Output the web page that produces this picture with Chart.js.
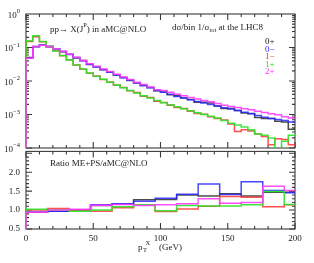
<!DOCTYPE html>
<html><head><meta charset="utf-8">
<script src="https://cdn.jsdelivr.net/npm/chart.js@4.4.1/dist/chart.umd.min.js"></script>
<style>
html,body{margin:0;padding:0;background:#fff;}
#wrap{position:relative;width:314px;height:263px;overflow:hidden;background:#fff}
canvas{position:absolute;left:0}
</style></head><body>
<div id="wrap">
<canvas id="cTop" width="314" height="160" style="top:0;width:314px;height:160px"></canvas>
<canvas id="cRatio" width="314" height="123" style="top:140px;width:314px;height:123px"></canvas>
</div>
<script>
// ---------- data ----------
const seriesNames = ['0+', '0\u2212', '1\u2212', '1+', '2+'];
const topBinEdges = [0,5,10,15,20,25,30,35,40,45,50,55,60,65,70,75,80,85,90,95,100,
  105,110,115,120,125,130,135,140,145,150,155,160,165,170,175,180,185,190,195,200];
const ratioBinEdges = [0,16,32,48,64,80,96,112,128,144,160,176,192,200];

const spec0p = [0.050,0.105,0.118,0.106,0.092,0.075,0.063,0.049,0.041,0.031,0.0265,0.0215,0.0185,0.0150,0.0128,0.0104,0.0088,0.0073,0.0064,0.0051,
  0.0047,0.0039,0.00363,0.00309,0.00282,0.00234,0.00234,0.00219,0.00178,0.00151,0.00151,0.00132,0.00110,0.00107,0.00081,0.00076,0.00076,0.00063,0.00060,0.00036];
const spec0m = [0.049,0.107,0.117,0.107,0.091,0.076,0.062,0.050,0.040,0.0316,0.0263,0.0219,0.0182,0.0151,0.0126,0.0105,0.0087,0.0074,0.0063,0.0052,
  0.0046,0.0040,0.00347,0.00309,0.00275,0.00245,0.00219,0.00200,0.00178,0.00158,0.00145,0.00132,0.00117,0.00105,0.00093,0.00083,0.00076,0.00071,0.00066,0.00060];
const spec1m = [0.150,0.210,0.148,0.108,0.080,0.057,0.043,0.030,0.0225,0.0170,0.0141,0.0110,0.0093,0.0075,0.0064,0.0051,0.0045,0.0035,0.0032,0.0025,
  0.0023,0.0019,0.00162,0.00151,0.00126,0.00107,0.00102,0.00085,0.00076,0.00069,0.00052,0.00031,0.00035,0.00032,0.00026,0.00022,0.000126,0.00019,0.000178,0.000126];
const spec1p = [0.158,0.224,0.151,0.110,0.079,0.058,0.042,0.030,0.023,0.0174,0.0138,0.0112,0.0091,0.0076,0.0063,0.0052,0.0044,0.0036,0.0031,0.0026,
  0.00224,0.00195,0.00170,0.00148,0.00129,0.00112,0.00100,0.00089,0.00079,0.00066,0.00055,0.00049,0.00042,0.00035,0.00026,0.00024,0.00020,0.00005,0.00016,0.00024];
const spec2p = [0.048,0.108,0.116,0.108,0.092,0.077,0.063,0.051,0.041,0.0325,0.0275,0.0229,0.0191,0.0158,0.0132,0.0110,0.0091,0.0078,0.0066,0.0055,
  0.0052,0.0046,0.0040,0.0036,0.0032,0.0029,0.0026,0.0024,0.00214,0.0019,0.00174,0.00162,0.00148,0.00138,0.00126,0.00115,0.00105,0.00098,0.00085,0.00079];

const ratio0p = [0.94,0.97,1.01,1.12,1.16,1.27,1.28,1.40,1.37,1.43,1.37,1.47,1.47];
const ratio0m = [0.94,0.97,1.01,1.14,1.17,1.23,1.31,1.42,1.69,1.41,1.75,1.52,1.46];
const ratio1m = [1.00,1.04,1.00,0.97,1.06,1.14,0.96,1.03,1.10,1.36,1.34,1.09,1.14];
const ratio1p = [1.02,1.00,0.97,1.00,1.09,1.14,0.98,1.12,1.11,1.11,1.14,1.49,1.15];
const ratio2p = [0.94,1.00,1.02,1.13,1.15,1.12,1.14,1.17,1.30,1.18,1.20,1.63,1.52];

const xTickValues = [0,50,100,150,200];
const xTickLabels = ['0','50','100','150','200'];
const topYTickValues = [1,0.1,0.01,0.001,0.0001];
const topYTickExp = ['0','\u22121','\u22122','\u22123','\u22124'];
const ratioYTickValues = [0.5,1.0,1.5,2.0];
const ratioYTickLabels = ['0.5','1.0','1.5','2.0'];

// ---------- styles ----------
const FONT = "'Liberation Serif','DejaVu Serif',serif";
const colors = ['rgba(30,30,30,0.8)','rgba(40,40,255,0.85)','rgba(255,50,50,0.85)','rgba(40,230,40,0.9)','rgba(255,60,255,0.9)'];
const textColors = ['#111','#2a2aff','#ff2a2a','#22dd22','#ff33ff'];
const drawOrder = [4,3,2,1,0];

function histPoints(edges, vals, floor){
  const pts = [{x: edges[0], y: floor}];
  vals.forEach((v,i)=>pts.push({x: edges[i], y: v}));
  pts.push({x: edges[vals.length], y: vals[vals.length-1]});
  return pts;
}
function makeSets(edges, arrs, floor){
  return arrs.map((a,i)=>({
    label: seriesNames[i], data: histPoints(edges, a, floor),
    borderColor: colors[i], borderWidth: 1.5, stepped: true, pointRadius: 0,
    fill: false, order: drawOrder[i], clip: {left:2,right:1,top:0,bottom:0}
  }));
}

function rich(ctx, parts, x, y, size, color, measureOnly){
  let cx = x;
  for (const p of parts){
    const fs = p.s ? size*0.72 : size;
    ctx.font = fs + 'px ' + FONT;
    const dy = p.s===1 ? -size*0.42 : (p.s===-1 ? size*0.32 : 0);
    if (!measureOnly){ ctx.fillStyle = color; ctx.fillText(p.t, cx, y+dy); }
    cx += ctx.measureText(p.t).width;
  }
  return cx - x;
}

function tickLine(ctx, x1,y1,x2,y2){ ctx.moveTo(x1,y1); ctx.lineTo(x2,y2); }

function frame(chart, isTop){
  const ctx = chart.ctx, a = chart.chartArea, xs = chart.scales.x, ys = chart.scales.y;
  ctx.save();
  ctx.strokeStyle = '#3a3a3a'; ctx.lineWidth = 1.1;
  ctx.strokeRect(a.left, a.top, a.right-a.left, a.bottom-a.top);
  ctx.beginPath();
  for (let v=0; v<=200; v+=10){
    const px = xs.getPixelForValue(v), L = (v%50===0) ? 6 : 3;
    tickLine(ctx, px, a.top, px, a.top+L);
    tickLine(ctx, px, a.bottom, px, a.bottom-L);
  }
  if (isTop){
    for (let e=-4; e<0; e++){
      for (let k=1; k<=9; k++){
        const py = ys.getPixelForValue(k*Math.pow(10,e)), L = k===1 ? 6 : 3;
        tickLine(ctx, a.left, py, a.left+L, py);
        tickLine(ctx, a.right, py, a.right-L, py);
      }
    }
  } else {
    for (let i=5; i<=25; i++){
      const v = i/10, py = ys.getPixelForValue(v), L = (i%5===0) ? 6 : 3;
      tickLine(ctx, a.left, py, a.left+L, py);
      tickLine(ctx, a.right, py, a.right-L, py);
    }
  }
  ctx.stroke();
  ctx.restore();
}

const topTexts = {
  id:'topTexts',
  beforeDatasetsDraw(chart){ frame(chart, true); },
  afterDraw(chart){
    const ctx = chart.ctx, ys = chart.scales.y;
    ctx.save(); ctx.textBaseline = 'middle'; ctx.textAlign = 'left';
    topYTickValues.forEach((v,i)=>{
      const parts = [{t:'10'},{t:topYTickExp[i], s:1}];
      const w = rich(ctx, parts, 0, 0, 9, '#222', true);
      rich(ctx, parts, 20 - w, ys.getPixelForValue(v)+1.5, 9, '#222');
    });
    rich(ctx, [{t:'pp\u2192 X(J'},{t:'P',s:1},{t:') in aMC@NLO'}], 50, 29.5, 9, '#222');
    rich(ctx, [{t:'d\u03c3/bin 1/\u03c3'},{t:'tot',s:-1},{t:' at the LHC8'}], 172, 27.5, 9, '#222');
    const ly = [42,49.5,57,64.5,72];
    seriesNames.forEach((n,i)=>rich(ctx, [{t:n}], 265, ly[i], 9, textColors[i]));
    ctx.restore();
  }
};
const ratioTexts = {
  id:'ratioTexts',
  beforeDatasetsDraw(chart){ frame(chart, false); },
  afterDraw(chart){
    const ctx = chart.ctx;
    ctx.save(); ctx.textBaseline = 'middle'; ctx.textAlign = 'left';
    rich(ctx, [{t:'Ratio ME+PS/aMC@NLO'}], 50, 23.5, 9, '#222');
    rich(ctx, [{t:'p'}], 138, 107.5, 9, '#222');
    rich(ctx, [{t:'T', s:-1}], 143, 107.5, 9, '#222');
    rich(ctx, [{t:'X', s:1}], 145.5, 107.5, 9, '#222');
    rich(ctx, [{t:'(GeV)'}], 159, 107.5, 9, '#222');
    ctx.restore();
  }
};

new Chart(document.getElementById('cTop'), {
  type: 'line',
  data: { datasets: makeSets(topBinEdges, [spec0p,spec0m,spec1m,spec1p,spec2p], 1e-6) },
  options: {
    responsive: false, animation: false, events: [],
    layout: { padding: { left: 0, right: 19, top: 14, bottom: 12 } },
    plugins: { legend: { display: false }, tooltip: { enabled: false } },
    scales: {
      x: { type: 'linear', min: 0, max: 200, display: false },
      y: { type: 'logarithmic', min: 1e-4, max: 1,
           afterFit(s){ s.width = 26; },
           ticks: { display: false }, grid: { display: false, drawTicks: false }, border: { display: false } }
    }
  },
  plugins: [topTexts]
});

new Chart(document.getElementById('cRatio'), {
  type: 'line',
  data: { datasets: makeSets(ratioBinEdges, [ratio0p,ratio0m,ratio1m,ratio1p,ratio2p], 0) },
  options: {
    responsive: false, animation: false, events: [],
    layout: { padding: { left: 0, right: 19, top: 8, bottom: 0 } },
    plugins: { legend: { display: false }, tooltip: { enabled: false } },
    scales: {
      x: { type: 'linear', min: 0, max: 200,
           afterBuildTicks(s){ s.ticks = xTickValues.map(v=>({value:v})); },
           afterFit(s){ s.height = 34; },
           ticks: { autoSkip: false, maxRotation: 0, padding: 4, color: '#222',
                    font: { family: FONT, size: 9 },
                    callback(v){ const i = xTickValues.indexOf(v); return i>=0 ? xTickLabels[i] : ''; } },
           grid: { display: false, drawTicks: false }, border: { display: false } },
      y: { type: 'linear', min: 0.5, max: 2.55,
           afterBuildTicks(s){ s.ticks = ratioYTickValues.map(v=>({value:v})); },
           afterFit(s){ s.width = 26; },
           ticks: { padding: 6, color: '#222', font: { family: FONT, size: 9 },
                    callback(v){ const i = ratioYTickValues.indexOf(v); return i>=0 ? ratioYTickLabels[i] : ''; } },
           grid: { display: false, drawTicks: false }, border: { display: false } }
    }
  },
  plugins: [ratioTexts]
});
</script>
</body></html>
